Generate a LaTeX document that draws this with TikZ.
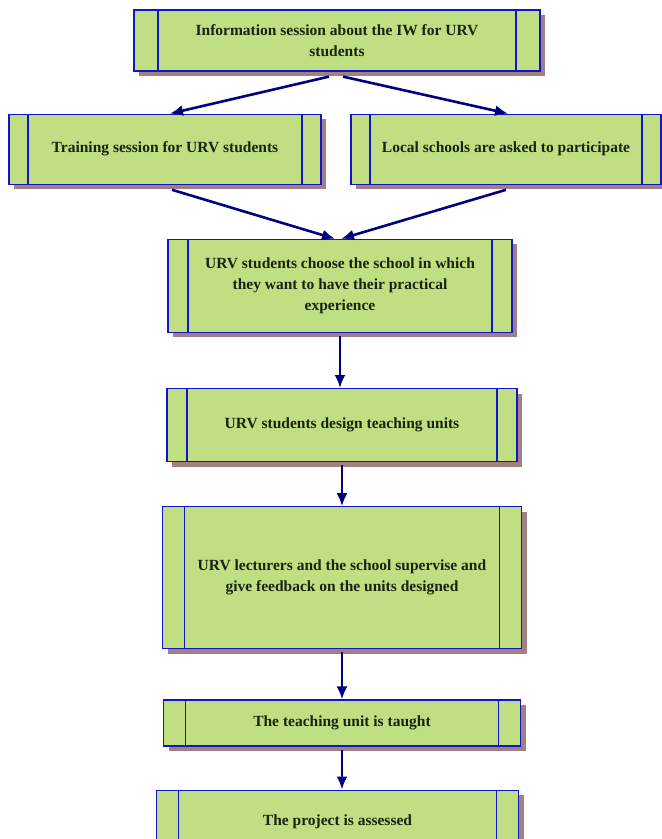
\documentclass[tikz,border=0pt]{standalone}
\usepackage{fontspec}
\setmainfont{Liberation Serif}
\usetikzlibrary{shadows,positioning,arrows.meta}
\definecolor{urvgreen}{RGB}{192,223,130}
\definecolor{urvblue}{RGB}{20,20,200}
\definecolor{urvnavy}{RGB}{0,0,128}
\definecolor{urvshadow}{RGB}{160,128,128}
\definecolor{urvtext}{RGB}{25,35,15}

\begin{document}
\begin{tikzpicture}[x=1pt, y=1pt,
		% Node styles
		stepbox/.style={draw=urvblue, fill=urvgreen, line width=1.2pt, text=urvtext,
				font=\fontsize{15.5}{21}\selectfont\bfseries, align=center, inner sep=0pt,
				drop shadow={shadow xshift=5pt, shadow yshift=-5pt, fill=urvshadow, opacity=1},
				path picture={
						\draw[urvblue, line width=1.2pt] ([xshift=#1]path picture bounding box.north west) -- ([xshift=#1]path picture bounding box.south west);
						\draw[urvblue, line width=1.2pt] ([xshift=-#1]path picture bounding box.north east) -- ([xshift=-#1]path picture bounding box.south east);
					}},
		stepbox/.default=21pt,
		connector/.style={-{Latex[length=13pt, width=11pt]}, draw=urvnavy, line width=2.6pt},
	]

	\useasboundingbox (0,0) rectangle (662,-839);

	% Top box as the reference point
	\node[stepbox=24pt, minimum width=406pt, minimum height=61pt] (info) at (337,-40.5) {Information session about the IW for URV \\ students};

	% Second row
	\node[stepbox=19pt, minimum width=312pt, minimum height=70pt] (training) [below=42pt of info, xshift=-172pt] {Training session for URV students};
	\node[stepbox=19pt, minimum width=310pt, minimum height=70pt] (schools) [below=42pt of info, xshift=169pt] {Local schools are asked to participate};

	% Main column
	\node[stepbox=20pt, minimum width=344pt, minimum height=93pt] (choose) [below=54pt of training, xshift=175pt] {URV students choose the school in which \\ they want to have their practical \\ experience};
	\node[stepbox=20pt, minimum width=350pt, minimum height=73pt] (design) [below=55pt of choose, xshift=2pt] {URV students design teaching units};
	\node[stepbox=22pt, minimum width=359pt, minimum height=142pt] (feedback) [below=44pt of design] {URV lecturers and the school supervise and \\ give feedback on the units designed};
	\node[stepbox=22pt, minimum width=357pt, minimum height=46pt] (taught) [below=50pt of feedback] {The teaching unit is taught};
	\node[stepbox=22pt, minimum width=362pt, minimum height=64pt] (assessed) [below=43pt of taught, xshift=-4.5pt] {The project is assessed};

	% Connections
	\draw[connector] ([xshift=-8pt, yshift=-5pt]info.south) -- ([xshift=5pt]training.north);
	\draw[connector] ([xshift=6pt, yshift=-5pt]info.south) -- ([xshift=2pt]schools.north);
	\draw[connector] ([xshift=7pt, yshift=-5pt]training.south) -- ([xshift=-5pt]choose.north);
	\draw[connector] ([yshift=-5pt]schools.south) -- ([xshift=1pt]choose.north);
	\draw[connector] ([yshift=-3pt]choose.south) -- (choose.south |- design.north);
	\draw[connector] ([yshift=-3pt]design.south) -- (design.south |- feedback.north);
	\draw[connector] ([yshift=-3pt]feedback.south) -- (feedback.south |- taught.north);
	\draw[connector] ([yshift=-3pt]taught.south) -- (taught.south |- assessed.north);

\end{tikzpicture}
\end{document}
